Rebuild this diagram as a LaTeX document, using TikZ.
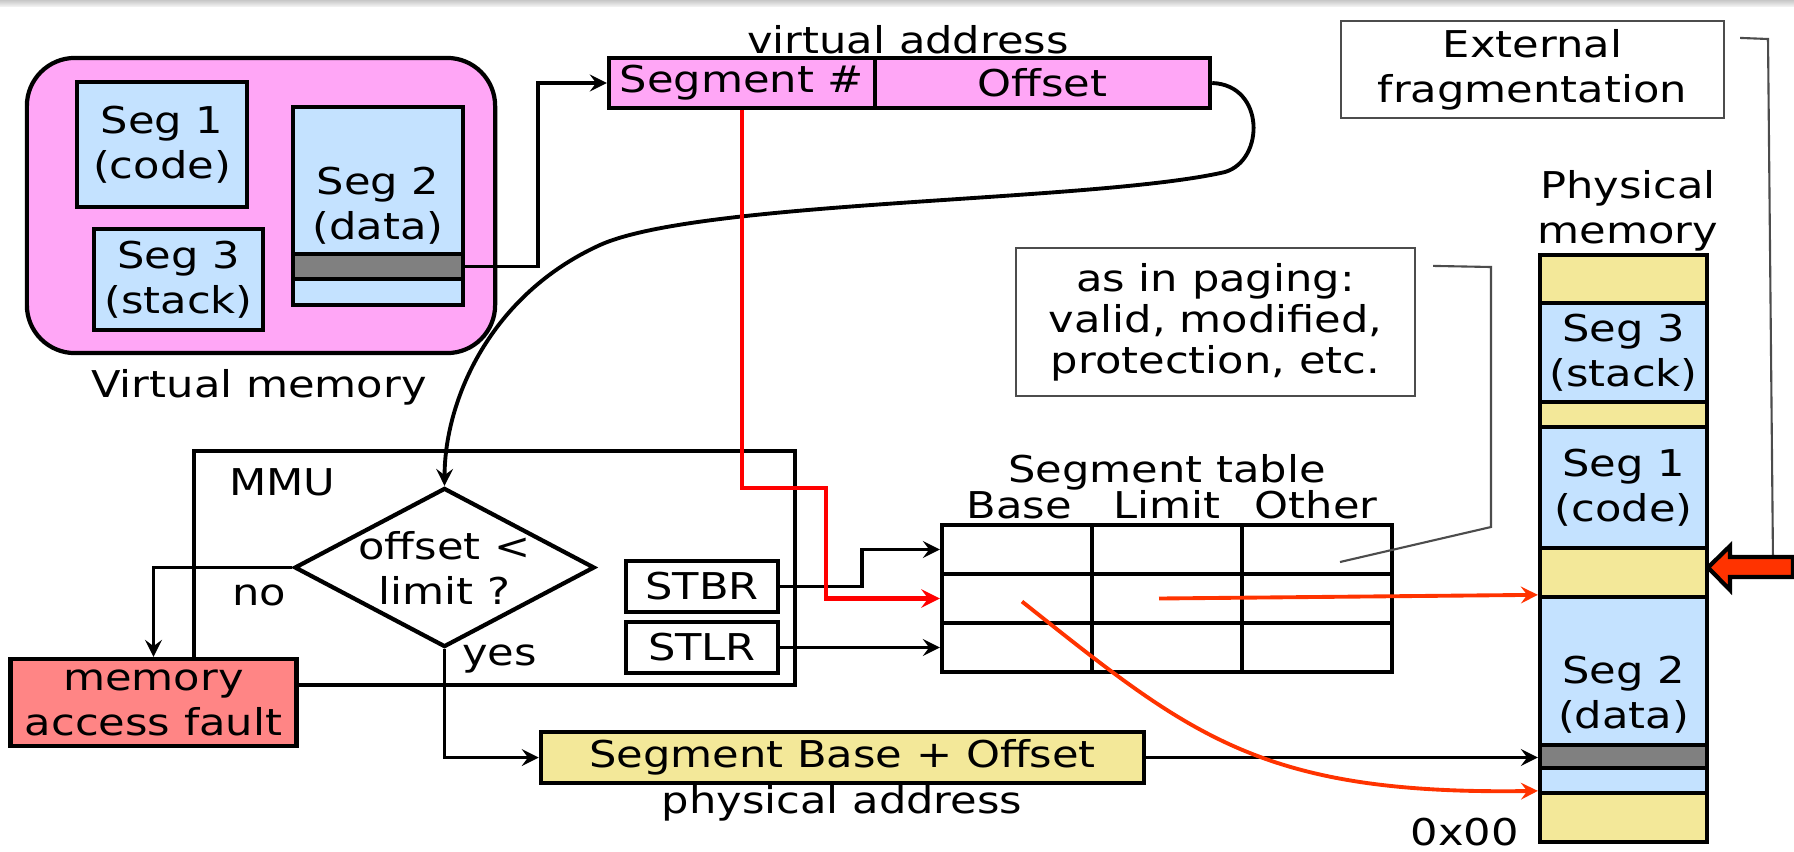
\documentclass[tikz,border=0pt]{standalone}
\usepackage{fontspec}
\setmainfont[FakeStretch=1.17]{DejaVu Sans}
\usetikzlibrary{shapes.geometric}

\definecolor{vpink}{HTML}{FFA6F6}
\definecolor{segblue}{HTML}{C4E2FF}
\definecolor{memyellow}{HTML}{F3E899}
\definecolor{faultred}{HTML}{FF8585}
\definecolor{bandgray}{HTML}{808080}
\definecolor{ptrorange}{HTML}{FF3300}

\tikzset{
  box/.style={draw, line width=1.2pt, inner sep=0pt, align=center},
  segbox/.style={box, fill=segblue},
  gapbox/.style={box, fill=memyellow},
  bandbox/.style={box, fill=bandgray},
  cell/.style={draw, line width=1.2pt, minimum width=1.5cm, minimum height=0.49cm, inner sep=0pt},
  note/.style={draw=black!70, line width=0.6pt, inner sep=0pt, align=center},
  link/.style={->, line width=1.1pt},
  hit/.style={->, line width=1.3pt, red},
  ptr/.style={->, line width=1.1pt, ptrorange},
  callout/.style={line width=0.6pt, black!70},
}

\begin{document}
\begin{tikzpicture}[>=stealth, x=0.01cm, y=-0.01cm, font=\fontsize{10.5}{12.8}\selectfont]

    % Frame
    \useasboundingbox (0,0) rectangle (1794,851);
    \fill[white] (0,0) rectangle (1794,851);
    \shade[top color=black!22, bottom color=black!6] (0,0) rectangle (1794,6);

    % Virtual memory
    \node[box, fill=vpink, rounded corners=0.48cm, minimum width=4.68cm, minimum height=2.95cm] (vm) at (261,205.5) {};
    \node[segbox, minimum width=1.70cm, minimum height=1.25cm] (vseg1) at (162,144.5) {Seg 1\\(code)};
    \node[segbox, minimum width=1.69cm, minimum height=1.01cm] (vseg3) at (178.5,279.5) {Seg 3\\(stack)};
    \node[segbox, minimum width=1.70cm, minimum height=1.98cm] (vseg2) at (378,206) {Seg 2\\(data)};
    \node[bandbox, minimum width=1.70cm, minimum height=0.25cm] (vband) at (378,266.5) {};
    \node[anchor=base] (vmlabel) at (259,397) {Virtual memory};

    % Virtual address
    \node[box, fill=vpink, minimum width=2.66cm, minimum height=0.50cm] (segnum) at (742,83) {Segment \#};
    \node[box, fill=vpink, minimum width=3.35cm, minimum height=0.50cm] (offset) at (1042.5,83) {Offset};
    \node[anchor=base] (valabel) at (908,53) {virtual address};

    % MMU
    \node[draw, line width=1.2pt, minimum width=6.005cm, minimum height=2.34cm] (mmu) at (494.75,568) {};
    \node[anchor=base west] (mmulabel) at (217,495) {MMU};
    \node[diamond, draw, line width=1.2pt, minimum width=3.0cm, minimum height=1.59cm, inner sep=0pt] (dia) at (444.5,567.5) {};
    \node[align=center] (dialabel) at (dia.center) {offset <\\limit ?};
    \node[anchor=base] (nolabel) at (259,605) {no};
    \node[anchor=base] (yeslabel) at (499.5,665) {yes};
    \node[box, minimum width=1.52cm, minimum height=0.51cm] (stbr) at (702,586.5) {STBR};
    \node[box, minimum width=1.52cm, minimum height=0.51cm] (stlr) at (702,647.5) {STLR};
    \node[box, fill=faultred, minimum width=2.86cm, minimum height=0.87cm] (fault) at (153.5,702.5) {memory\\access fault};

    % Segment table
    \foreach \r in {1,2,3}
        \foreach \c in {1,2,3}
            \node[cell] (t\r\c) at ({867+150*\c},{500.5+49*\r}) {};
    \node[anchor=base] (tablelabel) at (1167,482) {Segment table};
    \node[anchor=base] (hbase) at (1019,518) {Base};
    \node[anchor=base] (hlimit) at (1167,518) {Limit};
    \node[anchor=base] (hother) at (1316,518) {Other};

    % Physical address
    \node[box, fill=memyellow, minimum width=6.03cm, minimum height=0.51cm] (sbo) at (842.5,757.5) {Segment Base + Offset};
    \node[anchor=base] (palabel) at (842,813) {physical address};

    % Physical memory
    \node[gapbox, minimum width=1.67cm, minimum height=0.48cm] (ptop) at (1623.5,279) {};
    \node[segbox, minimum width=1.67cm, minimum height=0.99cm] (pseg3) at (1623.5,352.5) {Seg 3\\(stack)};
    \node[gapbox, minimum width=1.67cm, minimum height=0.25cm] (pgap1) at (1623.5,414.5) {};
    \node[segbox, minimum width=1.67cm, minimum height=1.21cm] (pseg1) at (1623.5,487.5) {Seg 1\\(code)};
    \node[gapbox, minimum width=1.67cm, minimum height=0.49cm] (pgap2) at (1623.5,572.5) {};
    \node[segbox, minimum width=1.67cm, minimum height=1.96cm] (pseg2) at (1623.5,695) {Seg 2\\(data)};
    \node[bandbox, minimum width=1.67cm, minimum height=0.23cm] (pband) at (1623.5,756.5) {};
    \node[gapbox, minimum width=1.67cm, minimum height=0.49cm] (pbot) at (1623.5,817.5) {};
    \node[anchor=south, align=center, inner sep=0pt] (pmlabel) at (1628,252) {Physical\\memory};
    \node[anchor=base east] (zerolabel) at (1531,845) {0x00};

    % Notes
    \node[note, minimum width=3.83cm, minimum height=0.97cm] (frag) at (1532.5,69.5) {External\\fragmentation};
    \node[note, minimum width=3.99cm, minimum height=1.48cm, font=\fontsize{10.5}{11.7}\selectfont] (paging) at (1215.5,322) {as in paging:\\valid, modified,\\protection, etc.};
    \coordinate (fragtip) at (1773,562);
    \coordinate (pagingtip) at (1340,562);
    \draw[callout] ([shift={(15,18)}]frag.north east) -- (1768,39) -- (fragtip);
    \draw[callout] ([shift={(17,19)}]paging.north east) -- (1491,267) -- (1491,527) -- (pagingtip);

    % Fat arrow
    \draw[fill=ptrorange, line width=1.2pt] (1708,567.5) -- (1730,546) -- (1730,557) -- (1793,557)
        -- (1793,577) -- (1730,577) -- (1730,590) -- cycle;

    % Connectors
    \draw[link] (vband.east) -- ++(73,0) |- (segnum.west);
    \draw[link] (offset.east) .. controls (1265,85) and (1265,160) .. (1225,172)
        .. controls (1095,202) and (700,200) .. (600,245)
        .. controls (490,295) and (445,400) .. (dia.north);
    \draw[link] (dia.west) -| (fault.north);
    \draw[link] (dia.south) |- (sbo.west);
    \draw[link] (stbr.east) -- ++(82,0) |- (t11.west);
    \draw[link] (stlr.east) -- (t31.west);
    \draw[link] (sbo.east) -- (sbo.east -| pband.west);
    \draw[hit] (segnum.south) |- (826,488) |- (t21.west);
    \draw[ptr] ([xshift=-0.08cm]t22.center) -- (pseg2.north west);
    \draw[ptr] ([shift={(5,3)}]t21.center) .. controls (1190,735) and (1260,795) .. (pbot.north west);

\end{tikzpicture}
\end{document}
